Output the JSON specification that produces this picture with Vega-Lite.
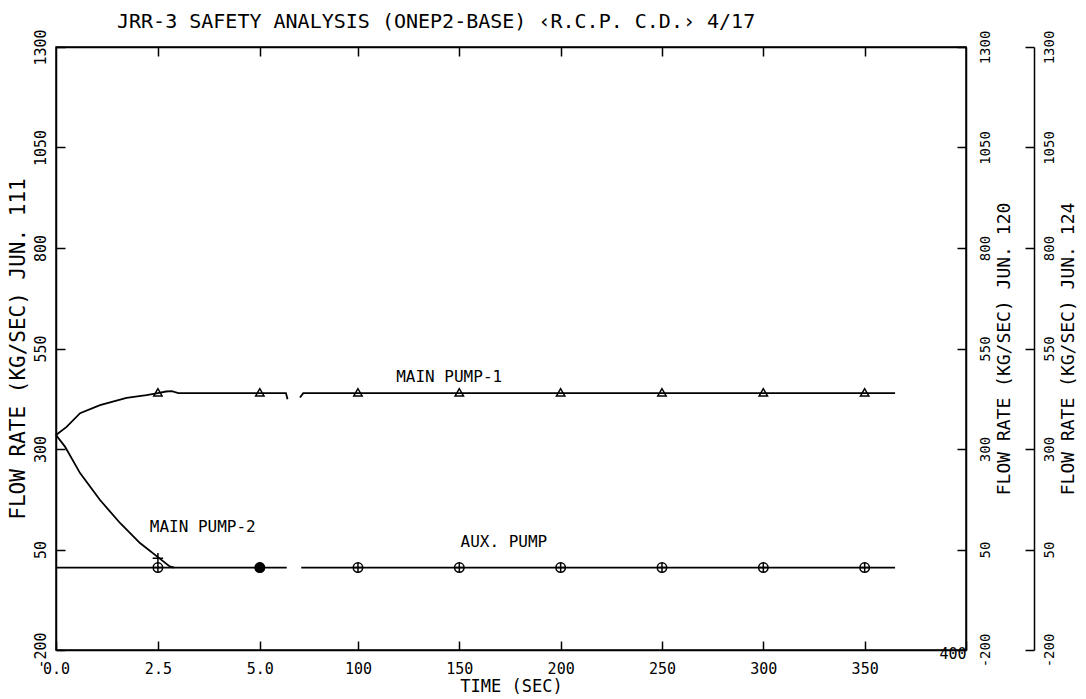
{
  "$schema": "https://vega.github.io/schema/vega-lite/v6.json",
  "width": 910,
  "height": 603,
  "autosize": "none",
  "padding": {"left": 56, "top": 47, "right": 120, "bottom": 49},
  "background": "white",
  "title": {"text": "JRR-3 SAFETY ANALYSIS (ONEP2-BASE) ‹R.C.P. C.D.› 4/17", "anchor": "start", "frame": "group", "dx": 61, "offset": -19, "baseline": "alphabetic", "font": "DejaVu Sans Mono", "fontSize": 20, "fontWeight": "normal", "color": "black"},
  "config": {
    "view": {"stroke": "black", "strokeWidth": 1.5},
    "axis": {"domainColor": "black", "domainWidth": 1.5, "tickColor": "black", "tickWidth": 1.5, "tickSize": -9, "labelFont": "DejaVu Sans Mono", "labelFontSize": 15, "labelColor": "black", "titleFont": "DejaVu Sans Mono", "titleFontWeight": "normal", "titleColor": "black", "grid": false, "labelFlush": false, "labelOverlap": false}
  },
  "datasets": {
    "lines": [
      {"series": "MAIN PUMP-1", "seg": "L", "t": 0, "v": 335},
      {"series": "MAIN PUMP-1", "seg": "L", "t": 0.26, "v": 355},
      {"series": "MAIN PUMP-1", "seg": "L", "t": 0.59, "v": 389},
      {"series": "MAIN PUMP-1", "seg": "L", "t": 1.08, "v": 409},
      {"series": "MAIN PUMP-1", "seg": "L", "t": 1.73, "v": 427},
      {"series": "MAIN PUMP-1", "seg": "L", "t": 2.22, "v": 434},
      {"series": "MAIN PUMP-1", "seg": "L", "t": 2.5, "v": 439},
      {"series": "MAIN PUMP-1", "seg": "L", "t": 2.7, "v": 443},
      {"series": "MAIN PUMP-1", "seg": "L", "t": 2.84, "v": 444},
      {"series": "MAIN PUMP-1", "seg": "L", "t": 3.0, "v": 439},
      {"series": "MAIN PUMP-1", "seg": "L", "t": 5.64, "v": 439},
      {"series": "MAIN PUMP-1", "seg": "L", "t": 5.68, "v": 424},
      {"series": "MAIN PUMP-1", "seg": "R", "t": 71.4, "v": 428},
      {"series": "MAIN PUMP-1", "seg": "R", "t": 73, "v": 439},
      {"series": "MAIN PUMP-1", "seg": "R", "t": 365, "v": 439},
      {"series": "MAIN PUMP-2", "seg": "L", "t": 0, "v": 335},
      {"series": "MAIN PUMP-2", "seg": "L", "t": 0.22, "v": 306},
      {"series": "MAIN PUMP-2", "seg": "L", "t": 0.59, "v": 240},
      {"series": "MAIN PUMP-2", "seg": "L", "t": 1.08, "v": 173},
      {"series": "MAIN PUMP-2", "seg": "L", "t": 1.57, "v": 116},
      {"series": "MAIN PUMP-2", "seg": "L", "t": 2.06, "v": 66},
      {"series": "MAIN PUMP-2", "seg": "L", "t": 2.5, "v": 31},
      {"series": "MAIN PUMP-2", "seg": "L", "t": 2.79, "v": 8},
      {"series": "MAIN PUMP-2", "seg": "L", "t": 2.9, "v": 5},
      {"series": "AUX. PUMP", "seg": "L", "t": 0, "v": 5},
      {"series": "AUX. PUMP", "seg": "L", "t": 5.66, "v": 5},
      {"series": "AUX. PUMP", "seg": "R", "t": 72, "v": 5},
      {"series": "AUX. PUMP", "seg": "R", "t": 365, "v": 5}
    ],
    "points": [
      {"series": "MAIN PUMP-1", "t": 2.5, "v": 441},
      {"series": "MAIN PUMP-1", "t": 5, "v": 441},
      {"series": "MAIN PUMP-1", "t": 100, "v": 441},
      {"series": "MAIN PUMP-1", "t": 150, "v": 441},
      {"series": "MAIN PUMP-1", "t": 200, "v": 441},
      {"series": "MAIN PUMP-1", "t": 250, "v": 441},
      {"series": "MAIN PUMP-1", "t": 300, "v": 441},
      {"series": "MAIN PUMP-1", "t": 350, "v": 441},
      {"series": "AUX. PUMP", "t": 2.5, "v": 5},
      {"series": "AUX. PUMP", "t": 5, "v": 5},
      {"series": "AUX. PUMP", "t": 100, "v": 5},
      {"series": "AUX. PUMP", "t": 150, "v": 5},
      {"series": "AUX. PUMP", "t": 200, "v": 5},
      {"series": "AUX. PUMP", "t": 250, "v": 5},
      {"series": "AUX. PUMP", "t": 300, "v": 5},
      {"series": "AUX. PUMP", "t": 350, "v": 5},
      {"series": "MAIN PUMP-2", "t": 2.5, "v": 28}
    ],
    "labels": [
      {"label": "MAIN PUMP-1", "t": 145, "v": 479},
      {"label": "MAIN PUMP-2", "t": 3.6, "v": 106},
      {"label": "AUX. PUMP", "t": 172, "v": 69}
    ]
  },
  "layer": [
    {
      "data": {"name": "lines"},
      "mark": {"type": "line", "color": "black", "strokeWidth": 1.8},
      "encoding": {
        "x": {"field": "t", "type": "quantitative",
              "scale": {"type": "linear", "domain": [0, 5.74, 71.4, 400], "range": [0, 234, 244, 910], "nice": false, "zero": false},
              "axis": {"orient": "bottom", "values": [0, 2.5, 5, 100, 150, 200, 250, 300, 350, 400], "labelExpr": "datum.value < 10 ? format(datum.value, '.1f') : '' + datum.value", "labelPadding": 20, "labelAlign": {"condition": {"test": "datum.value == 400", "value": "right"}, "value": "center"}, "labelBaseline": {"condition": {"test": "datum.value == 400", "value": "bottom"}, "value": "top"}, "title": "TIME (SEC)", "titleFontSize": 17, "titlePadding": 2}},
        "y": {"field": "v", "type": "quantitative",
              "scale": {"domain": [-200, 1300], "nice": false, "zero": false},
              "axis": {"orient": "left", "values": [-200, 50, 300, 550, 800, 1050, 1300], "labelExpr": "'' + datum.value", "labelAngle": -90, "labelAlign": "center", "labelBaseline": "bottom", "labelPadding": 17, "title": "FLOW RATE (KG/SEC) JUN. 111", "titleFontSize": 21, "titlePadding": 5}},
        "detail": [{"field": "series"}, {"field": "seg"}]
      }
    },
    {
      "data": {"name": "points"},
      "transform": [{"filter": "datum.series == 'MAIN PUMP-1'"}],
      "mark": {"type": "point", "shape": "triangle-up", "size": 70, "filled": false, "color": "black", "strokeWidth": 1.5, "opacity": 1},
      "encoding": {
        "x": {"field": "t", "type": "quantitative",
              "scale": {"type": "linear", "domain": [0, 5.74, 71.4, 400], "range": [0, 234, 244, 910], "nice": false, "zero": false},
              "axis": {"orient": "top", "values": [2.5, 5, 100, 150, 200, 250, 300, 350], "labels": false, "title": null}},
        "y": {"field": "v", "type": "quantitative",
              "scale": {"domain": [-200, 1300], "nice": false, "zero": false},
              "axis": {"orient": "right", "values": [-200, 50, 300, 550, 800, 1050, 1300], "labelExpr": "'' + datum.value", "labelAngle": -90, "labelAlign": "center", "labelBaseline": "top", "labelPadding": 21, "labelFontSize": 14, "title": "FLOW RATE (KG/SEC) JUN. 120", "titleAngle": -90, "titleBaseline": "top", "titleFontSize": 18, "titlePadding": 3}}
      }
    },
    {
      "data": {"name": "points"},
      "transform": [{"filter": "datum.series == 'AUX. PUMP'"}],
      "mark": {"type": "point", "shape": "circle", "size": 90, "filled": false, "color": "black", "strokeWidth": 1.5, "opacity": 1},
      "encoding": {
        "x": {"field": "t", "type": "quantitative",
              "scale": {"type": "linear", "domain": [0, 5.74, 71.4, 400], "range": [0, 234, 244, 910], "nice": false, "zero": false},
              "axis": null},
        "y": {"field": "v", "type": "quantitative",
              "scale": {"domain": [-200, 1300], "nice": false, "zero": false},
              "axis": {"orient": "right", "offset": 68, "values": [-200, 50, 300, 550, 800, 1050, 1300], "labelExpr": "'' + datum.value", "labelAngle": -90, "labelAlign": "center", "labelBaseline": "top", "labelPadding": 17, "labelFontSize": 14, "title": "FLOW RATE (KG/SEC) JUN. 124", "titleAngle": -90, "titleBaseline": "top", "titleFontSize": 18, "titlePadding": 3}}
      }
    },
    {
      "data": {"name": "points"},
      "transform": [{"filter": "datum.series == 'AUX. PUMP'"}],
      "mark": {"type": "point", "shape": "M-1,0L1,0M0,-1L0,1", "size": 90, "filled": false, "color": "black", "strokeWidth": 1.5, "opacity": 1},
      "encoding": {
        "x": {"field": "t", "type": "quantitative",
              "scale": {"type": "linear", "domain": [0, 5.74, 71.4, 400], "range": [0, 234, 244, 910], "nice": false, "zero": false},
              "axis": null},
        "y": {"field": "v", "type": "quantitative",
              "scale": {"domain": [-200, 1300], "nice": false, "zero": false},
              "axis": null}
      }
    },
    {
      "data": {"name": "points"},
      "transform": [{"filter": "datum.series == 'AUX. PUMP' && datum.t == 5"}],
      "mark": {"type": "point", "shape": "circle", "size": 110, "filled": true, "color": "black", "opacity": 1},
      "encoding": {
        "x": {"field": "t", "type": "quantitative",
              "scale": {"type": "linear", "domain": [0, 5.74, 71.4, 400], "range": [0, 234, 244, 910], "nice": false, "zero": false},
              "axis": null},
        "y": {"field": "v", "type": "quantitative",
              "scale": {"domain": [-200, 1300], "nice": false, "zero": false},
              "axis": null}
      }
    },
    {
      "data": {"name": "points"},
      "transform": [{"filter": "datum.series == 'MAIN PUMP-2'"}],
      "mark": {"type": "point", "shape": "M-1,0L1,0M0,-1L0,1", "size": 110, "filled": false, "color": "black", "strokeWidth": 1.5, "opacity": 1},
      "encoding": {
        "x": {"field": "t", "type": "quantitative",
              "scale": {"type": "linear", "domain": [0, 5.74, 71.4, 400], "range": [0, 234, 244, 910], "nice": false, "zero": false},
              "axis": null},
        "y": {"field": "v", "type": "quantitative",
              "scale": {"domain": [-200, 1300], "nice": false, "zero": false},
              "axis": null}
      }
    },
    {
      "data": {"name": "labels"},
      "mark": {"type": "text", "font": "DejaVu Sans Mono", "fontSize": 16, "color": "black", "align": "center", "baseline": "middle"},
      "encoding": {
        "x": {"field": "t", "type": "quantitative",
              "scale": {"type": "linear", "domain": [0, 5.74, 71.4, 400], "range": [0, 234, 244, 910], "nice": false, "zero": false},
              "axis": null},
        "y": {"field": "v", "type": "quantitative",
              "scale": {"domain": [-200, 1300], "nice": false, "zero": false},
              "axis": null},
        "text": {"field": "label"}
      }
    }
  ],
  "resolve": {"axis": {"x": "independent", "y": "independent"}}
}
